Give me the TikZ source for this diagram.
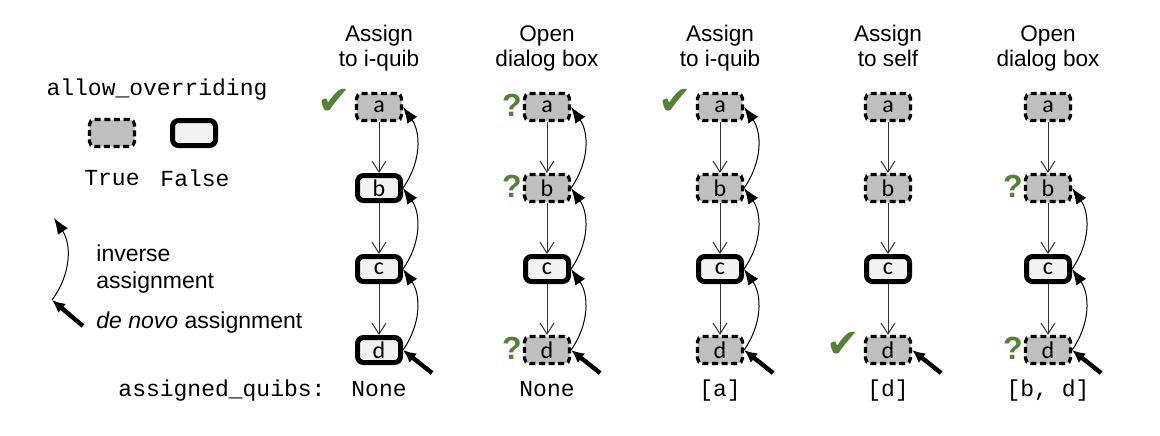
\documentclass[tikz,border=0pt]{standalone}
\usepackage{fontspec}
\setmainfont{Liberation Sans}
\setmonofont{Liberation Mono}
\newfontfamily\boxfont{Carlito}
\newfontfamily\symfont{DejaVu Sans}
\usetikzlibrary{arrows.meta,calc}
\definecolor{okgreen}{RGB}{84,130,53}
\definecolor{truegray}{RGB}{191,191,191}
\definecolor{falsegray}{RGB}{242,242,242}

\begin{document}
\begin{tikzpicture}[x=0.5pt,y=-0.5pt,
  tbox/.style={draw,dash pattern=on 3pt off 1.8pt,line width=1.6pt,rounded corners=2.5pt,
               fill=truegray,minimum width=22.5pt,minimum height=13.5pt,inner sep=0pt,
               font=\boxfont\fontsize{12}{12}\selectfont},
  fbox/.style={draw,line width=2.5pt,rounded corners=3pt,fill=falsegray,
               minimum width=21.5pt,minimum height=12.5pt,inner sep=0pt,
               font=\boxfont\fontsize{12}{12}\selectfont},
  down/.style={-{Straight Barb[length=5.5pt,width=7pt]},line width=0.5pt,black!80},
  inv/.style={-{Latex[length=8pt,width=6pt]},line width=0.5pt},
  novo/.style={-{Latex[length=6.5pt,width=6pt]},line width=2.2pt},
  ttl/.style={font=\fontsize{11.3}{12.5}\selectfont,align=center,anchor=north,inner sep=0pt},
  mono/.style={font=\ttfamily\fontsize{11.5}{13}\selectfont,inner sep=0pt},
  txt/.style={font=\fontsize{11.5}{13.5}\selectfont,align=left,anchor=west,inner sep=0pt},
  ok/.style={font=\symfont\fontsize{20}{20}\selectfont,text=okgreen,inner sep=0pt},
  qm/.style={font=\bfseries\fontsize{16}{16}\selectfont,text=okgreen,inner sep=0pt}
]
\useasboundingbox (0,0) rectangle (1160,435);

% Legend
\node[mono] (ao) at (157,90) {allow\_overriding};
\node[tbox] (lt) at (112,133) {};
\node[fbox] (lf) at (194,133) {};
\node[mono] (ltt) at (112,178) {True};
\node[mono] (lft) at (195,178) {False};
\coordinate (lgs) at (52,300);
\coordinate (lge) at (54,218);
\coordinate (lgn) at (83,326);
\draw[inv] (lgs) to[bend right=35] (lge);
\draw[novo] (lgn) -- (lgs);
\node[txt] (linv) at (96,269) {inverse\\assignment};
\node[txt] (lnov) at (96,323) {\textit{de novo} assignment};

% Titles
\node[ttl] (t1) at (379,25)  {Assign\\to i-quib};
\node[ttl] (t2) at (547,25)  {Open\\dialog box};
\node[ttl] (t3) at (720,25)  {Assign\\to i-quib};
\node[ttl] (t4) at (888,25)  {Assign\\to self};
\node[ttl] (t5) at (1048,25) {Open\\dialog box};

% Column 1: only a may be overridden
\node[tbox] (a1) at (379,107) {a};
\node[fbox] (b1) at (379,188) {b};
\node[fbox] (c1) at (379,269) {c};
\node[fbox] (d1) at (379,350) {d};
% Column 2
\node[tbox] (a2) at (547,107) {a};
\node[tbox] (b2) at (547,188) {b};
\node[fbox] (c2) at (547,269) {c};
\node[tbox] (d2) at (547,350) {d};
% Column 3
\node[tbox] (a3) at (720,107) {a};
\node[tbox] (b3) at (720,188) {b};
\node[fbox] (c3) at (720,269) {c};
\node[tbox] (d3) at (720,350) {d};
% Column 4
\node[tbox] (a4) at (888,107) {a};
\node[tbox] (b4) at (888,188) {b};
\node[fbox] (c4) at (888,269) {c};
\node[tbox] (d4) at (888,350) {d};
% Column 5
\node[tbox] (a5) at (1048,107) {a};
\node[tbox] (b5) at (1048,188) {b};
\node[fbox] (c5) at (1048,269) {c};
\node[tbox] (d5) at (1048,350) {d};

% Marks beside the boxes
\node[ok] (k1) at ($(a1.west)+(-21,-5)$) {✔};
\node[qm] (q2a) at ($(a2.west)+(-11,-2)$) {?};
\node[qm] (q2b) at ($(b2.west)+(-11,-2)$) {?};
\node[qm] (q2d) at ($(d2.west)+(-11,-2)$) {?};
\node[ok] (k3) at ($(a3.west)+(-21,-5)$) {✔};
\node[ok] (k4) at ($(d4.west)+(-21,-5)$) {✔};
\node[qm] (q5b) at ($(b5.west)+(-11,-2)$) {?};
\node[qm] (q5d) at ($(d5.west)+(-11,-2)$) {?};

% Dependencies
\draw[down] (a1) -- (b1); \draw[down] (b1) -- (c1); \draw[down] (c1) -- (d1);
\draw[down] (a2) -- (b2); \draw[down] (b2) -- (c2); \draw[down] (c2) -- (d2);
\draw[down] (a3) -- (b3); \draw[down] (b3) -- (c3); \draw[down] (c3) -- (d3);
\draw[down] (a4) -- (b4); \draw[down] (b4) -- (c4); \draw[down] (c4) -- (d4);
\draw[down] (a5) -- (b5); \draw[down] (b5) -- (c5); \draw[down] (c5) -- (d5);

% Inverse assignment: bend back up on the right side
\draw[inv] (d1.east) to[bend right=35] (c1.east);
\draw[inv] (c1.east) to[bend right=35] (b1.east);
\draw[inv] (b1.east) to[bend right=35] (a1.east);
\draw[inv] (d2.east) to[bend right=35] (c2.east);
\draw[inv] (c2.east) to[bend right=35] (b2.east);
\draw[inv] (b2.east) to[bend right=35] (a2.east);
\draw[inv] (d3.east) to[bend right=35] (c3.east);
\draw[inv] (c3.east) to[bend right=35] (b3.east);
\draw[inv] (b3.east) to[bend right=35] (a3.east);
\draw[inv] (d5.east) to[bend right=35] (c5.east);
\draw[inv] (c5.east) to[bend right=35] (b5.east);

% De novo assignment into d
\coordinate (n1) at ($(d1.east)+(29,23)$);
\coordinate (n2) at ($(d2.east)+(29,23)$);
\coordinate (n3) at ($(d3.east)+(29,23)$);
\coordinate (n4) at ($(d4.east)+(29,23)$);
\coordinate (n5) at ($(d5.east)+(29,23)$);
\draw[novo] (n1) -- (d1.east);
\draw[novo] (n2) -- (d2.east);
\draw[novo] (n3) -- (d3.east);
\draw[novo] (n4) -- (d4.east);
\draw[novo] (n5) -- (d5.east);

% Result row
\node[mono,anchor=base] (aq) at (222,396) {assigned\_quibs:};
\node[mono,anchor=base] (r1) at (379,396)  {None};
\node[mono,anchor=base] (r2) at (547,396)  {None};
\node[mono,anchor=base] (r3) at (720,396)  {[a]};
\node[mono,anchor=base] (r4) at (888,396)  {[d]};
\node[mono,anchor=base] (r5) at (1048,396) {[b, d]};
\end{tikzpicture}
\end{document}
